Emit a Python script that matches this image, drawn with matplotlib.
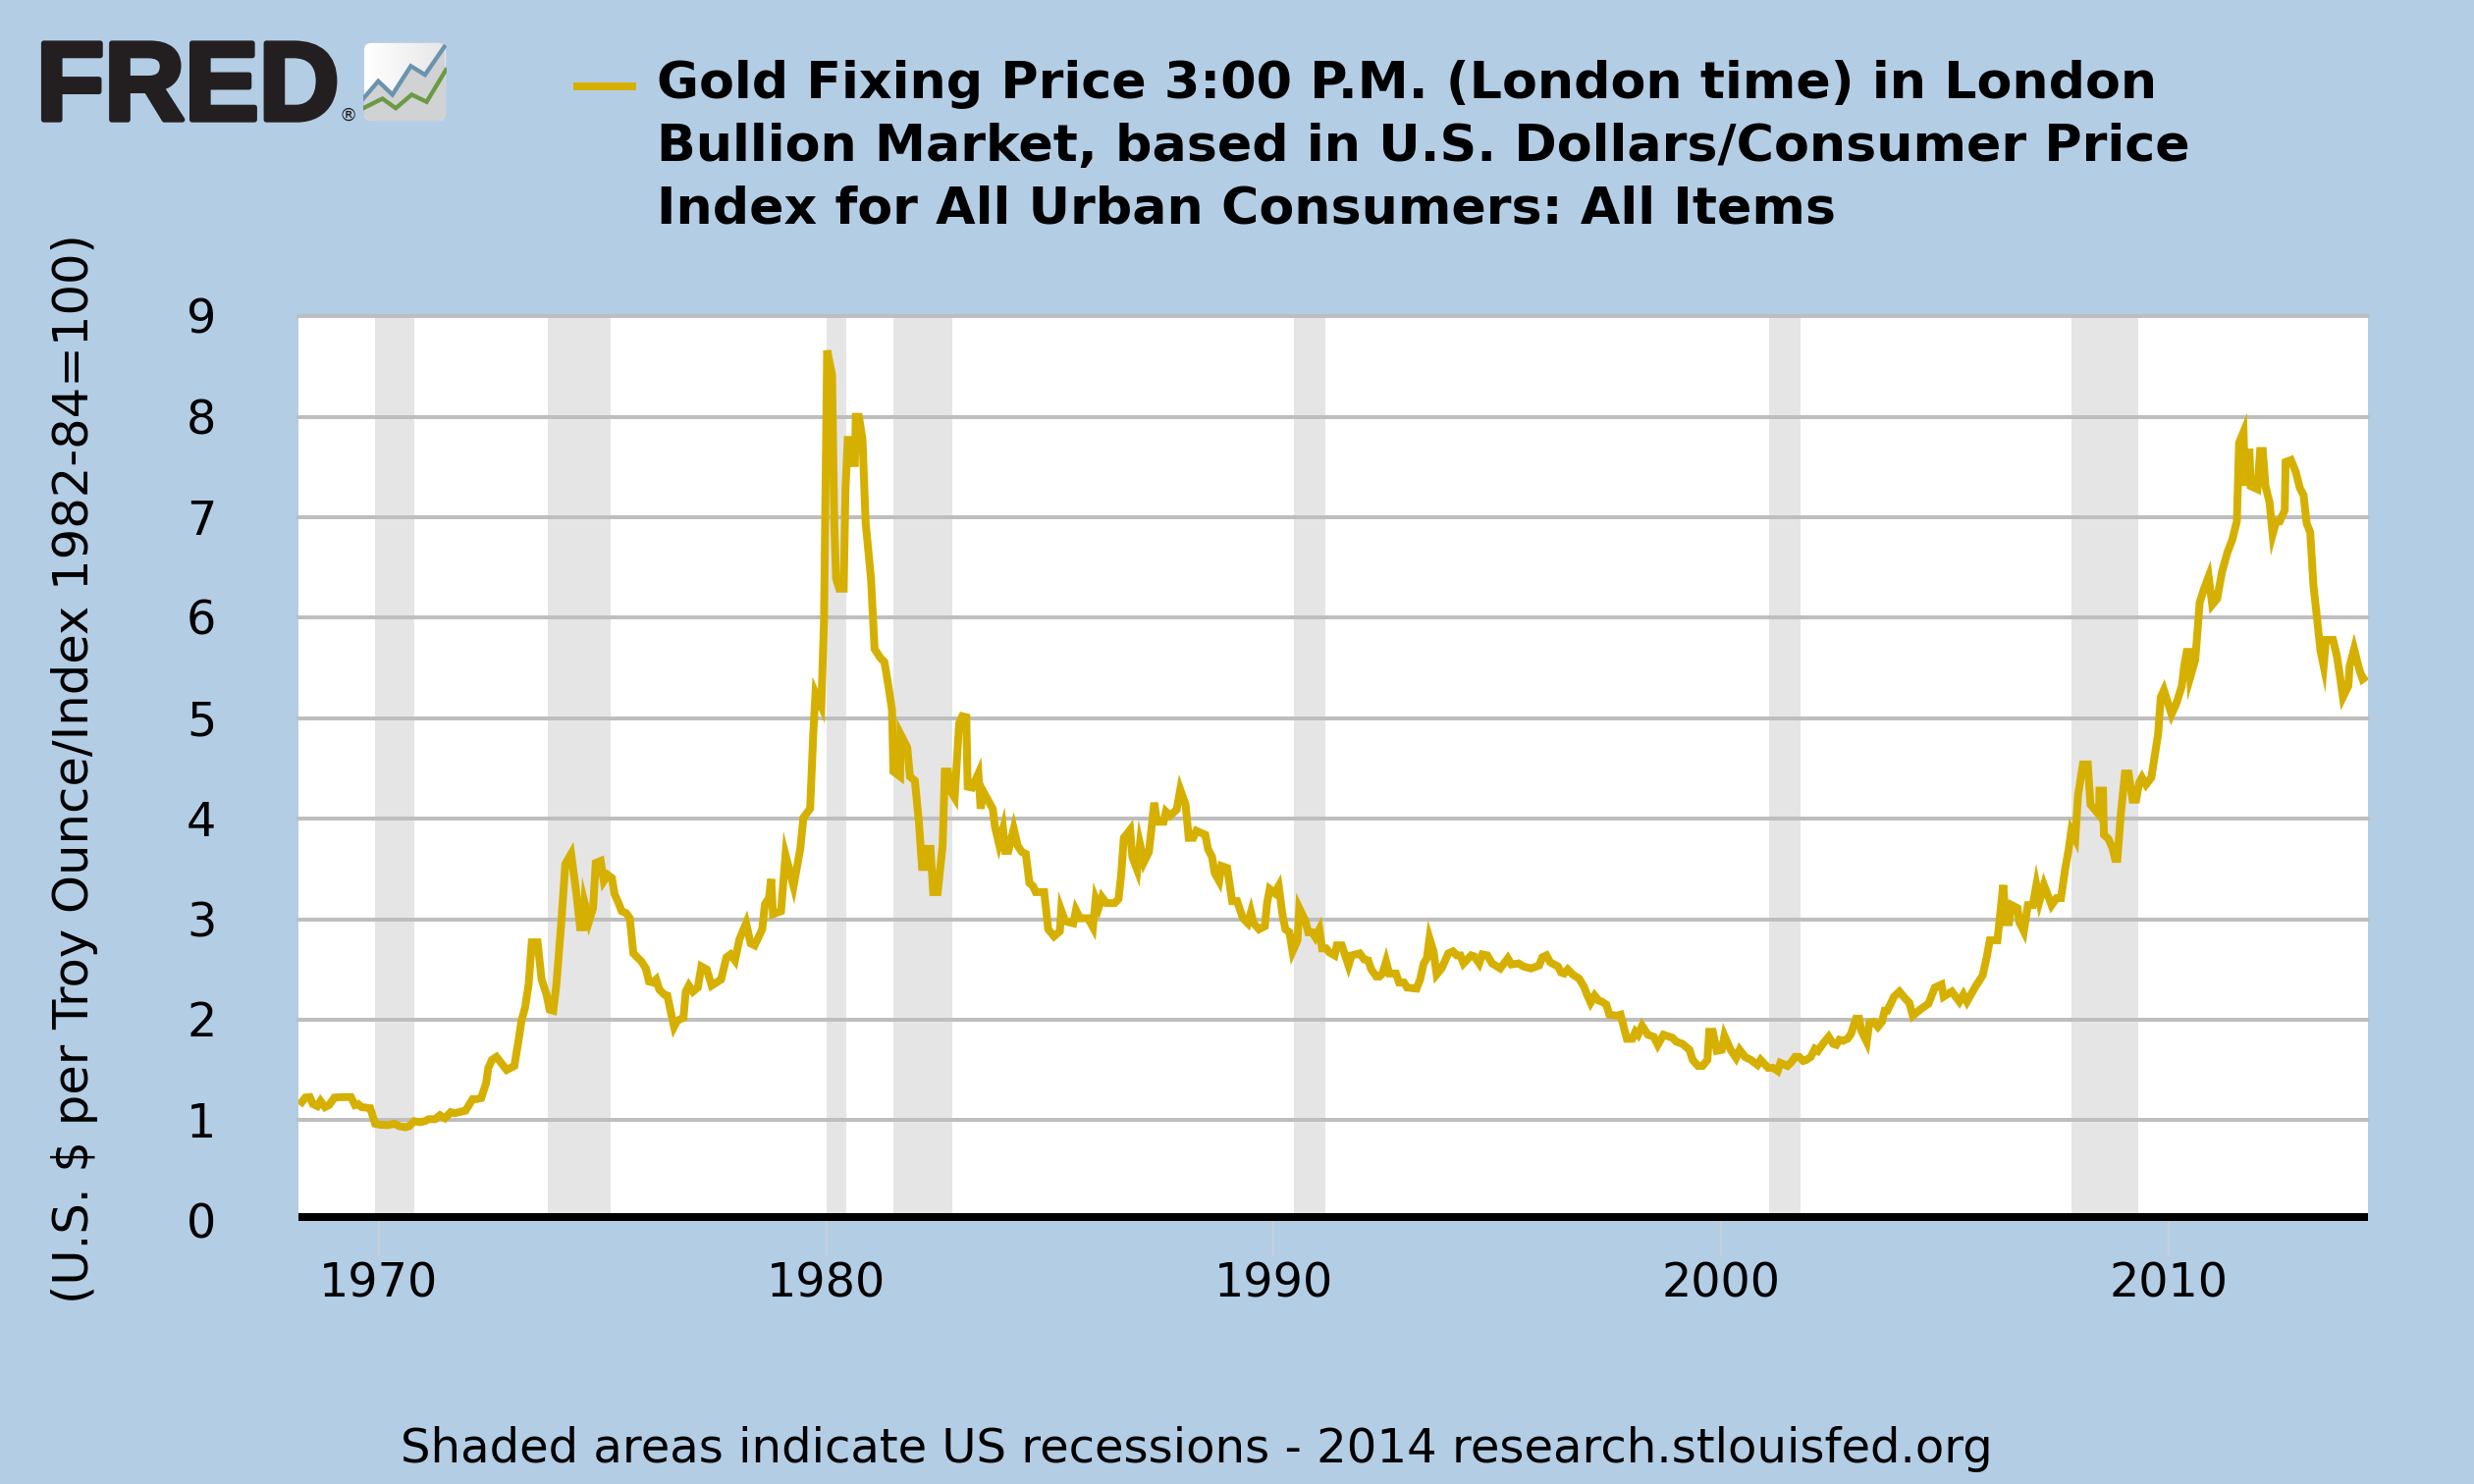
import matplotlib
matplotlib.use("Agg")
import numpy as np
import matplotlib.pyplot as plt
from matplotlib.patches import FancyBboxPatch
from matplotlib.lines import Line2D
from matplotlib.transforms import ScaledTranslation
import matplotlib.patheffects as pe

W, H = 2520, 1512

# offset from 1970 in years, value
years_a = [-1.77, -1.64, -1.54, -1.47, -1.37, -1.30, -1.20, -1.11, -0.99, -0.79, -0.62, -0.53, -0.46, -0.38, -0.19, -0.08,
           0.03, 0.20, 0.35, 0.46, 0.60, 0.68, 0.79, 0.93, 1.03, 1.12, 1.26, 1.37, 1.48, 1.61, 1.70, 1.94,
           2.10, 2.19, 2.29, 2.40, 2.45, 2.53, 2.63, 2.72, 2.86, 3.03, 3.13, 3.19, 3.27, 3.35, 3.42, 3.55, 3.64, 3.75, 3.82, 3.90, 3.97,
           4.08, 4.17, 4.30, 4.41, 4.50, 4.57, 4.60, 4.70, 4.79, 4.85, 4.96, 5.03, 5.12, 5.21, 5.27, 5.36, 5.43, 5.53, 5.61, 5.69, 5.78, 5.87, 5.97,
           6.04, 6.13, 6.20, 6.27, 6.38, 6.45, 6.53, 6.60, 6.67, 6.81, 6.86, 6.93, 7.02, 7.13, 7.21, 7.33, 7.44, 7.65, 7.77, 7.86, 7.96,
           8.06, 8.21, 8.31, 8.40, 8.57, 8.63, 8.72, 8.77, 8.81, 8.99, 9.09, 9.27]
values_a = [1.15, 1.225, 1.23, 1.16, 1.14, 1.19, 1.13, 1.15, 1.225, 1.23, 1.23, 1.15, 1.16, 1.13, 1.12, 0.965,
            0.955, 0.95, 0.965, 0.94, 0.93, 0.94, 0.99, 0.98, 0.99, 1.01, 1.01, 1.05, 1.02, 1.08, 1.07, 1.095,
            1.21, 1.21, 1.22, 1.37, 1.52, 1.60, 1.63, 1.58, 1.50, 1.54, 1.81, 1.99, 2.12, 2.35, 2.77, 2.77, 2.40, 2.25, 2.10, 2.09, 2.35,
            2.97, 3.55, 3.65, 3.28, 2.92, 2.92, 3.16, 2.98, 3.11, 3.56, 3.58, 3.38, 3.44, 3.41, 3.25, 3.16, 3.08, 3.06, 3.01, 2.66, 2.62, 2.58, 2.51,
            2.38, 2.37, 2.40, 2.30, 2.25, 2.24, 2.07, 1.93, 1.99, 2.02, 2.28, 2.34, 2.28, 2.32, 2.53, 2.50, 2.34, 2.40, 2.62, 2.65, 2.59,
            2.80, 2.96, 2.76, 2.74, 2.90, 3.15, 3.21, 3.40, 3.05, 3.08, 3.64, 3.33]

years_b = [9.42, 9.49, 9.64, 9.71, 9.76, 9.89, 9.95, 10.02, 10.13, 10.18, 10.22, 10.29, 10.39, 10.43, 10.48, 10.54, 10.59, 10.64, 10.66, 10.73, 10.81, 10.88,
           11.00, 11.08, 11.21, 11.30, 11.39, 11.47, 11.50, 11.65, 11.66, 11.81, 11.87, 11.98, 12.07, 12.14, 12.23, 12.26, 12.33, 12.39, 12.49, 12.60, 12.65, 12.72, 12.76, 12.87, 12.97,
           13.04, 13.13, 13.16, 13.26, 13.40, 13.45, 13.51, 13.72, 13.77, 13.86, 13.95, 14.00, 14.07, 14.19, 14.28, 14.37, 14.46, 14.54, 14.62, 14.68, 14.87, 14.96,
           15.09, 15.22, 15.25, 15.34, 15.52, 15.58, 15.67, 15.85, 15.96, 16.02, 16.09, 16.16, 16.26, 16.44, 16.53, 16.59, 16.65, 16.79, 16.84, 16.95,
           17.01, 17.10, 17.21, 17.33, 17.39, 17.54, 17.59, 17.68, 17.83, 17.91, 18.03, 18.10, 18.20, 18.27, 18.47, 18.53, 18.62, 18.68, 18.78, 18.83, 18.96,
           19.07, 19.18, 19.31, 19.42, 19.49, 19.55, 19.67]
values_b = [3.70, 4.01, 4.10, 4.84, 5.25, 5.12, 5.97, 8.66, 8.42, 6.93, 6.39, 6.29, 6.29, 7.28, 7.77, 7.77, 7.54, 7.54, 8.00, 8.00, 7.78, 6.95,
            6.39, 5.69, 5.60, 5.56, 5.32, 5.08, 4.47, 4.42, 4.84, 4.71, 4.42, 4.38, 3.97, 3.52, 3.52, 3.70, 3.70, 3.27, 3.27, 3.73, 4.47, 4.47, 4.29, 4.21, 4.95,
            5.02, 5.01, 4.32, 4.31, 4.45, 4.10, 4.27, 4.10, 3.92, 3.75, 3.90, 3.68, 3.68, 3.90, 3.73, 3.67, 3.65, 3.36, 3.33, 3.27, 3.27, 2.90,
            2.83, 2.88, 3.09, 2.98, 2.96, 3.09, 3.01, 3.01, 2.92, 3.20, 3.12, 3.22, 3.16, 3.16, 3.20, 3.44, 3.81, 3.89, 3.62, 3.49,
            3.75, 3.57, 3.67, 4.16, 3.97, 3.97, 4.07, 4.03, 4.09, 4.29, 4.14, 3.81, 3.81, 3.88, 3.84, 3.70, 3.62, 3.46, 3.38, 3.53, 3.51,
            3.18, 3.18, 3.01, 2.96, 3.07, 2.96, 2.90]

years_c = [19.80, 19.85, 19.91, 20.02, 20.11, 20.20, 20.26, 20.35, 20.42, 20.53, 20.57, 20.71, 20.77, 20.86, 20.93,
           21.02, 21.08, 21.17, 21.24, 21.36, 21.41, 21.52, 21.58, 21.67, 21.74, 21.92, 22.02, 22.11, 22.18, 22.29, 22.36, 22.43, 22.51, 22.58, 22.73, 22.80, 22.91, 22.98,
           23.19, 23.27, 23.35, 23.42, 23.48, 23.57, 23.64, 23.75, 23.90, 24.00, 24.09, 24.17, 24.24, 24.41]
values_c = [2.93, 3.16, 3.30, 3.26, 3.33, 3.03, 2.90, 2.87, 2.68, 2.79, 3.11, 2.98, 2.87, 2.87, 2.82,
            2.90, 2.71, 2.71, 2.67, 2.64, 2.74, 2.74, 2.66, 2.54, 2.64, 2.66, 2.60, 2.59, 2.50, 2.43, 2.43, 2.46, 2.58, 2.46, 2.46, 2.37, 2.37, 2.32,
            2.31, 2.40, 2.56, 2.61, 2.81, 2.68, 2.45, 2.51, 2.66, 2.68, 2.64, 2.64, 2.56, 2.64]

years_d = [24.48, 24.59, 24.66, 24.77, 24.88, 25.06, 25.23, 25.31, 25.47, 25.58, 25.75, 25.93, 26.00, 26.09, 26.18, 26.35, 26.42, 26.49, 26.57, 26.68, 26.82, 26.93,
           27.01, 27.08, 27.17, 27.26, 27.33, 27.43, 27.50, 27.66, 27.75, 27.89, 28.01, 28.08, 28.14, 28.23, 28.36, 28.49, 28.58, 28.71, 28.91,
           29.00, 29.13, 29.29, 29.36, 29.48, 29.58, 29.69, 29.73, 29.81, 29.90, 30.01, 30.07, 30.21, 30.33, 30.41, 30.53, 30.66, 30.81, 30.88,
           31.05, 31.16, 31.26, 31.32, 31.48, 31.57, 31.65, 31.74, 31.83, 31.90, 32.00, 32.09, 32.16, 32.27, 32.40, 32.50, 32.57, 32.64, 32.72, 32.82, 32.90, 32.95,
           33.01, 33.08, 33.13, 33.25, 33.31, 33.41, 33.50, 33.59, 33.65]
values_d = [2.63, 2.56, 2.65, 2.64, 2.56, 2.51, 2.61, 2.55, 2.56, 2.53, 2.51, 2.54, 2.62, 2.64, 2.57, 2.53, 2.47, 2.46, 2.50, 2.45, 2.41, 2.33,
            2.24, 2.17, 2.24, 2.19, 2.18, 2.15, 2.05, 2.04, 2.05, 1.81, 1.81, 1.88, 1.85, 1.94, 1.85, 1.83, 1.75, 1.85, 1.82,
            1.78, 1.76, 1.70, 1.60, 1.54, 1.54, 1.60, 1.88, 1.88, 1.69, 1.70, 1.84, 1.70, 1.62, 1.70, 1.63, 1.60, 1.55, 1.60,
            1.52, 1.52, 1.49, 1.57, 1.54, 1.58, 1.63, 1.63, 1.59, 1.60, 1.63, 1.71, 1.69, 1.76, 1.83, 1.76, 1.75, 1.80, 1.79, 1.81, 1.86, 1.93,
            2.01, 2.01, 1.89, 1.78, 1.97, 1.98, 1.93, 1.98, 2.09]

years_e = [33.71, 33.86, 33.98, 34.11, 34.20, 34.28, 34.47, 34.63, 34.77, 34.92, 34.97, 35.15, 35.32, 35.41, 35.49, 35.68, 35.84, 35.93,
           36.00, 36.17, 36.30, 36.36, 36.43, 36.49, 36.62, 36.66, 36.76, 36.85, 36.96, 37.04, 37.11, 37.21, 37.38, 37.49, 37.59, 37.68, 37.76, 37.82, 37.91, 37.97,
           38.08, 38.19, 38.25, 38.44, 38.45, 38.53, 38.55, 38.65, 38.74, 38.80, 38.85, 38.93, 39.02, 39.10, 39.19, 39.27, 39.34, 39.40, 39.49, 39.61, 39.76, 39.82, 39.89,
           40.06, 40.17, 40.29, 40.35, 40.40, 40.45, 40.48, 40.59, 40.69, 40.78, 40.89, 40.97, 41.08, 41.19, 41.31, 41.42, 41.52, 41.57, 41.67, 41.70, 41.76, 41.80, 41.83, 41.98,
           42.04, 42.10, 42.16, 42.25, 42.32, 42.40, 42.48, 42.59, 42.61, 42.73, 42.83, 42.93, 43.01, 43.08, 43.16, 43.23, 43.39, 43.46, 43.51, 43.67, 43.76, 43.84, 43.89,
           44.01, 44.04, 44.14, 44.26, 44.33, 44.42]
values_e = [2.09, 2.23, 2.28, 2.21, 2.17, 2.04, 2.11, 2.16, 2.32, 2.35, 2.23, 2.28, 2.18, 2.25, 2.18, 2.33, 2.44, 2.62,
            2.79, 2.79, 3.34, 2.97, 2.97, 3.14, 3.11, 2.97, 2.88, 3.14, 3.14, 3.34, 3.18, 3.34, 3.14, 3.21, 3.21, 3.49, 3.69, 3.88, 3.80, 4.23,
            4.54, 4.54, 4.14, 4.04, 4.28, 4.28, 3.84, 3.80, 3.71, 3.60, 3.60, 4.06, 4.45, 4.45, 4.19, 4.19, 4.36, 4.41, 4.34, 4.41, 4.84, 5.21, 5.28,
            5.04, 5.15, 5.32, 5.54, 5.66, 5.66, 5.41, 5.58, 6.15, 6.28, 6.41, 6.13, 6.19, 6.46, 6.65, 6.78, 6.96, 7.74, 7.85, 7.35, 7.35, 7.68, 7.31, 7.28,
            7.66, 7.66, 7.31, 7.15, 6.83, 6.96, 6.96, 7.07, 7.55, 7.57, 7.46, 7.29, 7.22, 6.94, 6.85, 6.33, 5.67, 5.52, 5.78, 5.78, 5.61, 5.37, 5.21,
            5.32, 5.52, 5.69, 5.48, 5.39, 5.42]

recession_start = [1969.92, 1973.78, 1980.01, 1981.50, 1990.45, 2001.07, 2007.83]
recession_end = [1970.79, 1975.19, 1980.45, 1982.82, 1991.15, 2001.77, 2009.32]

x_ticks = [1970, 1980, 1990, 2000, 2010]
y_ticks = [0, 1, 2, 3, 4, 5, 6, 7, 8, 9]

title_lines = ["Gold Fixing Price 3:00 P.M. (London time) in London",
               "Bullion Market, based in U.S. Dollars/Consumer Price",
               "Index for All Urban Consumers: All Items"]
y_label = "(U.S. $ per Troy Ounce/Index 1982-84=100)"
footer = "Shaded areas indicate US recessions - 2014 research.stlouisfed.org"

# small logo icon lines
icon_x = [0, 18, 35, 57, 74, 97]
icon_blue = [29, 51, 34, 70, 59, 94]
icon_x2 = [0, 23, 39, 58, 76, 99]
icon_green = [17, 29, 17, 34, 25, 65]

BG = "#B3CDE5"
GOLD = "#D6B000"
GRID = "#BEBEBE"
SHADE = "#E5E5E5"

plt.rcParams["font.family"] = "DejaVu Sans"

fig = plt.figure(figsize=(10.5, 6.3), dpi=240, facecolor=BG)


def fx(px):
    return px / W


def fy(px):
    return 1 - px / H


left, right, top, bottom = 303.7, 2412.0, 322.3, 1243.7
ax = fig.add_axes([fx(left), fy(bottom), (right - left) / W, (bottom - top) / H])
ax.set_facecolor("white")
for s in ax.spines.values():
    s.set_visible(False)

years = 1970 + np.array(years_a + years_b + years_c + years_d + years_e)
values = np.array(values_a + values_b + values_c + values_d + values_e)

for a, b in zip(recession_start, recession_end):
    ax.axvspan(a, b, color=SHADE, lw=0, zorder=1)
for v in y_ticks[1:]:
    ax.axhline(v, color=GRID, lw=1.2, zorder=2, clip_on=False)
ax.axhline(0, color="black", lw=4.8, zorder=2, solid_capstyle="butt")
ax.plot(years, values, color=GOLD, lw=2.4, zorder=3, solid_joinstyle="miter", solid_capstyle="butt")

ax.set_xlim(1968.20, 2014.45)
ax.set_ylim(0, 9)
ax.set_xticks(x_ticks)
ax.set_yticks(y_ticks)
ax.tick_params(axis="x", length=10.8, width=0.6, color="#C6CFDB", pad=1.5, labelsize=14.3)
ax.tick_params(axis="y", length=0, pad=25, labelsize=14.3)
for lab in ax.get_yticklabels():
    lab.set_va("center")
    lab.set_transform(lab.get_transform() + ScaledTranslation(0, -4 / 240, fig.dpi_scale_trans))

# title, legend key
fig.add_artist(Line2D([fx(584), fx(648)], [fy(88), fy(88)], color=GOLD, lw=2.4, solid_capstyle="butt"))
for i, line in enumerate(title_lines):
    fig.text(fx(669), fy(100 + 64 * i), line, fontsize=15.66, fontweight="bold", color="black", va="baseline", ha="left")

fig.text(fx(76), fy(783), y_label, rotation=90, fontsize=14.9, ha="center", va="center")
fig.text(fx(408), fy(1490), footer, fontsize=14.45, ha="left", va="baseline")

# logo
fig.text(fx(37), fy(122), "FRED", family="Liberation Sans", fontweight="bold", fontsize=34, color="#231F20",
         va="baseline", ha="left", path_effects=[pe.withStroke(linewidth=1.6, foreground="#231F20")])
fig.text(fx(345), fy(123), "®", fontsize=5.5, color="#231F20", va="baseline", ha="left")

icon = fig.add_axes([fx(370), fy(124), 85 / W, 81 / H])
icon.set_xlim(0, 100)
icon.set_ylim(0, 100)
icon.axis("off")
box = FancyBboxPatch((1, 1), 98, 98, boxstyle="round,pad=0,rounding_size=9", fc="#D0D2D4", ec="none", zorder=0)
icon.add_patch(box)
grad = icon.imshow(np.linspace(1, 0.9, 64).reshape(1, -1), cmap="gray", vmin=0, vmax=1, extent=[1, 99, 1, 99],
                   aspect="auto", zorder=0.5)
grad.set_clip_path(box)
fill_x = icon_x + [100, 0]
fill_y = icon_blue + [0, 0]
fill = icon.fill(fill_x, fill_y, color="#D0D2D4", lw=0, zorder=0.7)[0]
fill.set_clip_path(box)
icon.plot(icon_x, icon_blue, color="#6A94AE", lw=1.3, zorder=2, solid_joinstyle="miter")
icon.plot(icon_x2, icon_green, color="#6C9A44", lw=1.3, zorder=2, solid_joinstyle="miter")

fig.savefig("out.png", dpi=240, facecolor=BG)
